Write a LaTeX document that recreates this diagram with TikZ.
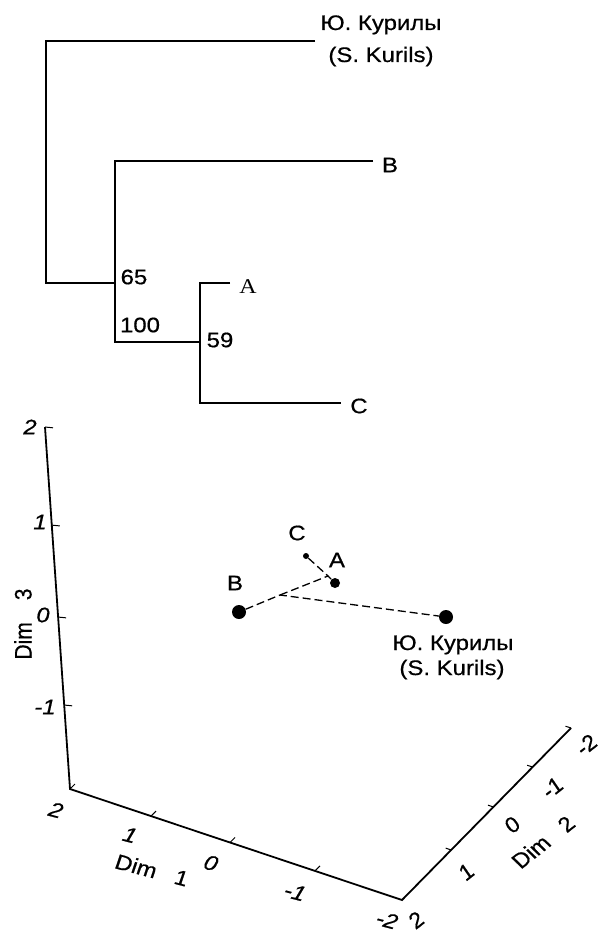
\documentclass[tikz,border=0pt]{standalone}
\usepackage{graphicx}
\usepackage{fontspec}
\setmainfont[FakeBold=0.6]{Liberation Sans}
\newfontfamily\serifface{Liberation Serif}
\usetikzlibrary{calc}
\newcommand{\wid}[1]{\scalebox{1.14}[1]{#1}}
\newcommand{\widrot}[2]{\scalebox{1.14}[1]{\rotatebox{#1}{#2}}}
\begin{document}
\begin{tikzpicture}[x=1pt,y=-1pt,
  lab/.style={font=\fontsize{21}{25}\selectfont, inner sep=0pt, outer sep=0pt},
  treeline/.style={line width=2pt},
  axisline/.style={line width=1.8pt},
  tickline/.style={line width=1pt},
  dashline/.style={line width=1.3pt, dash pattern=on 8pt off 4pt},
  dotbig/.style={circle, fill=black, inner sep=0pt, minimum size=14pt},
  dotmid/.style={circle, fill=black, inner sep=0pt, minimum size=10pt},
  dotsmall/.style={circle, fill=black, inner sep=0pt, minimum size=6pt}]
\fill[white] (0,0) rectangle (601,934);
\useasboundingbox (0,0) rectangle (601,934);

% ---- tree ----
\coordinate (rt) at (46,41);
\coordinate (rb) at (46,283);
\coordinate (kend) at (315,41);
\coordinate (n1) at (115,283);
\coordinate (n1t) at (115,161);
\coordinate (n1b) at (115,342);
\coordinate (bend) at (373,161);
\coordinate (n2) at (200,342);
\coordinate (n2t) at (200,283);
\coordinate (n2b) at (200,403);
\coordinate (aend) at (230,283);
\coordinate (cend) at (341,403);
\draw[treeline] (kend) -- (rt) -- (rb) -- (n1);
\draw[treeline] (bend) -- (n1t) -- (n1b) -- (n2);
\draw[treeline] (aend) -- (n2t) -- (n2b) -- (cend);

\node[lab, anchor=base] (tk1) at (381,30) {\wid{Ю. Курилы}};
\node[lab, anchor=base] (tk2) at (381,62) {\wid{(S. Kurils)}};
\node[lab] (tb) at (390,165) {\wid{B}};
\node[lab] (t65) at (134,277) {\wid{65}};
\node[lab] (t100) at (140,325) {\wid{100}};
\node[lab] (ta) at (248,287) {\wid{\serifface A}};
\node[lab] (t59) at (220,340) {\wid{59}};
\node[lab] (tc) at (359,406) {\wid{C}};

% ---- 3D axes ----
\coordinate (z2) at (45,427);
\coordinate (o) at (70,789);
\coordinate (x2) at (402,900);
\coordinate (y2) at (571,728);
\draw[axisline] (z2) -- (o) -- (x2) -- (y2);
\foreach \f in {0,0.271,0.525,0.768}
  \draw[tickline] ($(z2)!\f!(o)$) -- ++(8,0.8);
\foreach \f in {0,0.244,0.482,0.738}
  \draw[tickline] ($(o)!\f!(x2)$) -- ++(5,-5);
\foreach \f in {0.291,0.541,0.773,1}
  \draw[tickline] ($(x2)!\f!(y2)$) -- ++(-5.5,-1.8);

% Dim 3 tick labels
\node[lab] (z2l) at (30,427) {\wid{\itshape 2}};
\node[lab] (z1l) at (40,522) {\wid{\itshape 1}};
\node[lab] (z0l) at (43,615) {\wid{\itshape 0}};
\node[lab] (zm1l) at (45,707) {\wid{\itshape -1}};
% Dim 1 tick labels
\node[lab] (x2l) at (56,810) {\widrot{-16.5}{\itshape 2}};
\node[lab] (x1l) at (130,835) {\widrot{-16.5}{\itshape 1}};
\node[lab] (x0l) at (211,863) {\widrot{-16.5}{\itshape 0}};
\node[lab] (xm1l) at (295,892) {\widrot{-16.5}{\itshape -1}};
\node[lab] (xm2l) at (387,920) {\widrot{-16.5}{\itshape -2}};
% Dim 2 tick labels
\node[lab] (y2l) at (416,920) {\widrot{42}{\itshape 2}};
\node[lab] (y1l) at (466,872) {\widrot{42}{\itshape 1}};
\node[lab] (y0l) at (512,825) {\widrot{42}{\itshape 0}};
\node[lab] (ym1l) at (552,788) {\widrot{42}{\itshape -1}};
\node[lab] (ym2l) at (586,745) {\widrot{42}{\itshape -2}};
% axis titles
\node[lab] (d3) at (23,624) {\widrot{90}{Dim\hspace{22pt}3}};
\node[lab] (d1) at (152,870) {\widrot{-16.5}{Dim\hspace{17pt}1}};
\node[lab] (d2) at (543,842) {\widrot{42}{Dim\hspace{17pt}2}};

% ---- points ----
\node[dotbig] (pB) at (239,612) {};
\node[dotbig] (pK) at (446,617) {};
\node[dotmid] (pA) at (335,583) {};
\node[dotsmall] (pC) at (306,556) {};
\coordinate (jn) at (280,595);
\coordinate (jm) at (328,576);
\draw[dashline] (pB) -- (jn) -- (pK);
\draw[dashline] (jn) -- (jm) -- (pA);
\draw[dashline] (pC) -- (jm);

\node[lab] (lC) at (297,533) {\wid{C}};
\node[lab] (lA) at (337,560) {\wid{A}};
\node[lab] (lB) at (235,583) {\wid{B}};
\node[lab, anchor=base] (lk1) at (453,650) {\wid{Ю. Курилы}};
\node[lab, anchor=base] (lk2) at (452,675) {\wid{(S. Kurils)}};
\end{tikzpicture}
\end{document}
